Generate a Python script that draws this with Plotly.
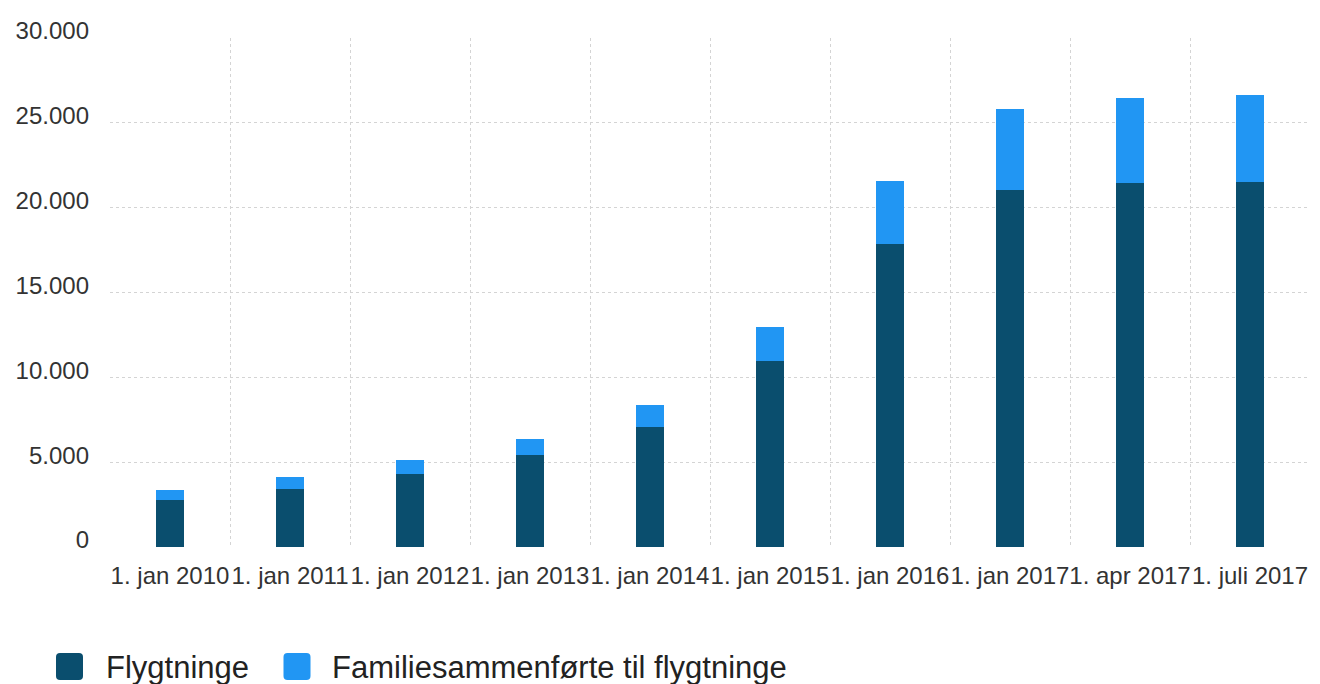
import plotly.graph_objects as go

categories = ["1. jan 2010", "1. jan 2011", "1. jan 2012", "1. jan 2013", "1. jan 2014",
              "1. jan 2015", "1. jan 2016", "1. jan 2017", "1. apr 2017", "1. juli 2017"]
flygtninge = [2770, 3440, 4300, 5420, 7050, 10980, 17850, 21040, 21430, 21490]
familie = [590, 670, 830, 940, 1340, 1970, 3730, 4750, 5010, 5140]
series_names = ["Flygtninge", "Familiesammenførte til flygtninge"]
y_ticks = [0, 5000, 10000, 15000, 20000, 25000, 30000]

DARK = "#0a4e6e"
LIGHT = "#2196f3"
FONT = "Liberation Sans, Arial, sans-serif"

W, H = 1320, 684
L, R, T, B = 110, 10, 38, 137
PW, PH = W - L - R, H - T - B

fig = go.Figure()
fig.add_trace(go.Bar(x=categories, y=flygtninge, name=series_names[0],
                     marker=dict(color=DARK, line=dict(width=0)), showlegend=False))
fig.add_trace(go.Bar(x=categories, y=familie, name=series_names[1],
                     marker=dict(color=LIGHT, line=dict(width=0)), showlegend=False))

def px_to_paper(px, py):
    return (px - L) / PW, (H - B - py) / PH

half, r = 13.5, 4
path = (f"M {-half+r},{-half} L {half-r},{-half} Q {half},{-half} {half},{-half+r} "
        f"L {half},{half-r} Q {half},{half} {half-r},{half} L {-half+r},{half} "
        f"Q {-half},{half} {-half},{half-r} L {-half},{-half+r} Q {-half},{-half} {-half+r},{-half} Z")

shapes = []
annotations = []
legend_items = [(69.5, 104, DARK, series_names[0]), (297, 330, LIGHT, series_names[1])]
for cx, tx, col, name in legend_items:
    ax, ay = px_to_paper(cx, 666.5)
    shapes.append(dict(type="path", xref="paper", yref="paper", xsizemode="pixel", ysizemode="pixel",
                       xanchor=ax, yanchor=ay, path=path, fillcolor=col, line=dict(width=0)))
    txp, typ = px_to_paper(tx, 667)
    annotations.append(dict(x=txp, y=typ, xref="paper", yref="paper", xanchor="left", yanchor="middle",
                            text=name, showarrow=False, font=dict(family=FONT, size=31, color="#222222")))

fig.update_layout(
    width=W, height=H,
    margin=dict(l=L, r=R, t=T, b=B, autoexpand=False),
    barmode="stack",
    bargap=0.767,
    plot_bgcolor="white", paper_bgcolor="white",
    separators=",.",
    font=dict(family=FONT, size=24, color="#333333"),
    shapes=shapes,
    annotations=annotations,
    showlegend=False,
)
fig.update_xaxes(type="category", tickson="boundaries", showgrid=True, gridcolor="#d4d4d4",
                 griddash="dot", gridwidth=1, tickangle=0, ticks="", showline=False,
                 tickfont=dict(size=24, color="#333333"), ticklabelstandoff=12)
fig.update_yaxes(range=[0, 30000], tickvals=y_ticks, tickformat=",d", showgrid=True,
                 gridcolor="#d4d4d4", griddash="dot", gridwidth=1, zeroline=False, showline=False,
                 ticks="", tickfont=dict(size=24, color="#333333"), ticklabelstandoff=20,
                 ticklabelshift=-7)

fig.write_html("out.html")
